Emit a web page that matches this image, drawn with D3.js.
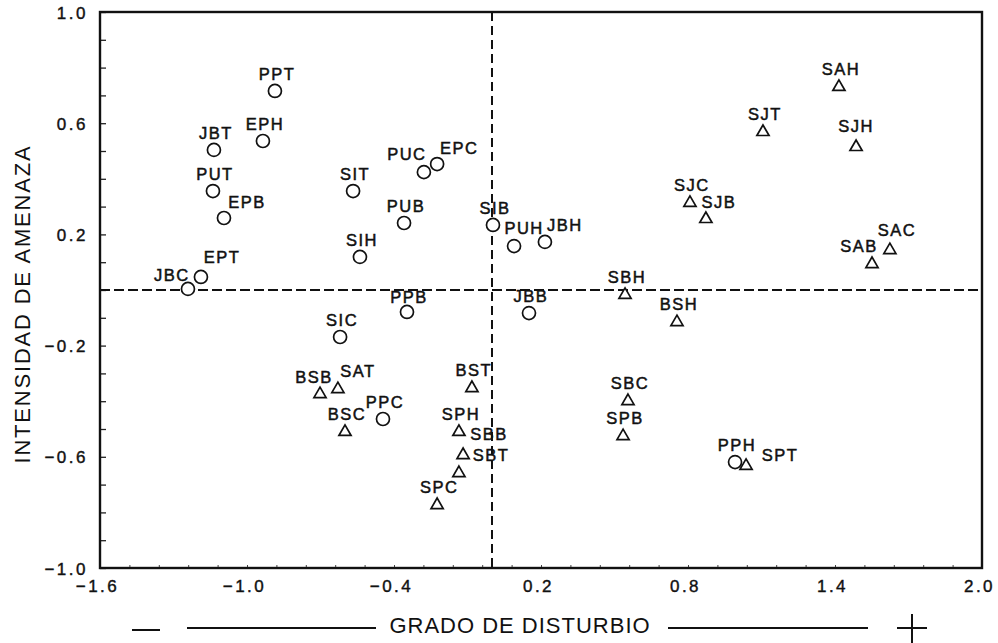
<!DOCTYPE html>
<html>
<head>
<meta charset="utf-8">
<script src="https://cdn.jsdelivr.net/npm/d3@7"></script>
<style>
  body { margin: 0; background: #fff; }
  svg { display: block; }
  text { font-family: "Liberation Sans", Arial, sans-serif; fill: #111; }
</style>
</head>
<body>
<div id="chart"></div>
<script>
// sites shown as circles
var circleNames = ["PPT","JBT","EPH","PUT","EPB","EPT","JBC","SIT","PUC","EPC","PUB","SIH","SIB","PUH","JBH","PPB","JBB","SIC","PPC","PPH"];
var circleX = [-0.886,-1.135,-0.935,-1.139,-1.094,-1.188,-1.241,-0.567,-0.278,-0.224,-0.359,-0.539,0.004,0.090,0.216,-0.347,0.151,-0.620,-0.445,0.992];
var circleY = [0.716,0.504,0.536,0.356,0.259,0.047,0.004,0.356,0.424,0.453,0.241,0.119,0.234,0.158,0.173,-0.079,-0.083,-0.169,-0.464,-0.619];

// sites shown as triangles
var triNames = ["SAH","SJT","SJH","SJC","SJB","SAC","SAB","SBH","BSH","BSB","SAT","BSC","BST","SPH","SBB","SBT","SPC","SBC","SPB","SPT"];
var triX = [1.416,1.106,1.486,0.808,0.873,1.624,1.551,0.543,0.755,-0.702,-0.629,-0.600,-0.082,-0.135,-0.118,-0.135,-0.224,0.555,0.535,1.037];
var triY = [0.734,0.572,0.518,0.317,0.259,0.147,0.097,-0.014,-0.112,-0.371,-0.353,-0.507,-0.349,-0.507,-0.590,-0.655,-0.770,-0.396,-0.522,-0.629];

var xTicks = [-1.6, -1.0, -0.4, 0.2, 0.8, 1.4, 2.0];
var yTicks = [1.0, 0.6, 0.2, -0.2, -0.6, -1.0];

// label placement (offset from the marker), default is just above
var labelOffset = {
  EPB: [23,-16], EPT: [21,-20], JBC: [-16,-14], PUC: [-17,-18], EPC: [22,-16],
  PUH: [10,-18], JBH: [20,-17], SJB: [13,-16], SAC: [7,-19], SAB: [-13,-17],
  BSB: [-6,-16], SAT: [20,-17], SBB: [26,-20], SBT: [32,-17], SPT: [34,-10],
  SJH: [0,-20], PPB: [2,-15]
};

var W = 998, H = 643;
var svg = d3.select("#chart").append("svg").attr("width", W).attr("height", H);

var x = d3.scaleLinear().domain([-1.6, 2.0]).range([100, 982]);
var y = d3.scaleLinear().domain([-1.0, 1.0]).range([568, 12]);

function fmt(v) { return (v < 0 ? "\u2212" : "") + Math.abs(v).toFixed(1); }

// minor ticks
svg.append("g")
  .attr("transform", "translate(" + x(-1.6) + ",0)")
  .call(d3.axisRight(y).tickValues(d3.range(-10, 11).map(function(i) { return i / 10; })).tickSize(6).tickFormat(""))
  .call(function(g) { g.select(".domain").remove(); g.selectAll("line").attr("stroke", "#222").attr("stroke-width", 1.3); });

svg.append("g")
  .attr("transform", "translate(0," + y(-1.0) + ")")
  .call(d3.axisTop(x).tickValues(d3.range(0, 31).map(function(i) { return -1.6 + i * 0.12; })).tickSize(3).tickFormat(""))
  .call(function(g) { g.select(".domain").remove(); g.selectAll("line").attr("stroke", "#444").attr("stroke-width", 1); });

// frame
svg.append("rect")
  .attr("x", x(-1.6)).attr("y", y(1.0))
  .attr("width", x(2.0) - x(-1.6)).attr("height", y(-1.0) - y(1.0))
  .attr("fill", "none").attr("stroke", "#111").attr("stroke-width", 2.4);

// tick labels
svg.append("g")
  .attr("transform", "translate(" + (x(-1.6) - 12) + ",0)")
  .call(d3.axisLeft(y).tickValues(yTicks).tickSize(0).tickFormat(fmt))
  .call(function(g) {
    g.select(".domain").remove();
    g.selectAll("text").attr("x", 0).attr("dy", "0.36em")
      .style("font-size", "17px").style("letter-spacing", "2.5px")
      .style("stroke", "#111").style("stroke-width", 0.4).attr("text-anchor", "end");
  });

svg.append("g")
  .attr("transform", "translate(0," + (y(-1.0) + 12) + ")")
  .call(d3.axisBottom(x).tickValues(xTicks).tickSize(0).tickFormat(fmt))
  .call(function(g) {
    g.select(".domain").remove();
    g.selectAll("text").attr("y", 0).attr("dy", "0.71em").attr("dx", "-3")
      .style("font-size", "17px").style("letter-spacing", "2.5px")
      .style("stroke", "#111").style("stroke-width", 0.4);
  });

// quadrant lines
svg.append("line")
  .attr("x1", x(0)).attr("x2", x(0)).attr("y1", y(1.0)).attr("y2", y(-1.0))
  .attr("stroke", "#111").attr("stroke-width", 2).attr("stroke-dasharray", "9,5");
svg.append("line")
  .attr("x1", x(-1.6)).attr("x2", x(2.0)).attr("y1", y(0)).attr("y2", y(0))
  .attr("stroke", "#111").attr("stroke-width", 2).attr("stroke-dasharray", "10,4");

var circles = circleNames.map(function(n, i) { return {name: n, x: circleX[i], y: circleY[i]}; });
var tris = triNames.map(function(n, i) { return {name: n, x: triX[i], y: triY[i]}; });

svg.append("g").selectAll("circle").data(circles).enter().append("circle")
  .attr("cx", function(d) { return x(d.x); })
  .attr("cy", function(d) { return y(d.y); })
  .attr("r", 6.5)
  .attr("fill", "#fff").attr("stroke", "#111").attr("stroke-width", 1.7);

var tri = d3.symbol().type(d3.symbolTriangle).size(64);
svg.append("g").selectAll("path").data(tris).enter().append("path")
  .attr("d", tri)
  .attr("transform", function(d) { return "translate(" + x(d.x) + "," + (y(d.y) + 1) + ")"; })
  .attr("fill", "#fff").attr("stroke", "#111").attr("stroke-width", 1.7);

svg.append("g").selectAll("text").data(circles.concat(tris)).enter().append("text")
  .attr("x", function(d) { return x(d.x) + (labelOffset[d.name] ? labelOffset[d.name][0] : 2); })
  .attr("y", function(d) { return y(d.y) + (labelOffset[d.name] ? labelOffset[d.name][1] : -17); })
  .attr("dy", "0.36em")
  .attr("text-anchor", "middle")
  .style("font-size", "16.5px")
  .style("letter-spacing", "1.5px")
  .style("stroke", "#111").style("stroke-width", 0.5)
  .text(function(d) { return d.name; });

// axis titles
svg.append("text")
  .attr("transform", "translate(30," + ((y(1) + y(-1)) / 2 + 14) + ") rotate(-90)")
  .attr("text-anchor", "middle")
  .style("font-size", "22px").style("letter-spacing", "1.8px")
  .text("INTENSIDAD DE AMENAZA");

svg.append("text")
  .attr("x", 520).attr("y", 625).attr("dy", "0.36em")
  .attr("text-anchor", "middle")
  .style("font-size", "22px").style("letter-spacing", "1px")
  .text("GRADO DE DISTURBIO");

// direction marks under the x axis: minus, lines and plus
var dir = svg.append("g").attr("stroke", "#111").attr("stroke-width", 2);
dir.append("line").attr("x1", 132).attr("x2", 160).attr("y1", 630).attr("y2", 630);
dir.append("line").attr("x1", 187).attr("x2", 376).attr("y1", 628).attr("y2", 628);
dir.append("line").attr("x1", 668).attr("x2", 868).attr("y1", 628).attr("y2", 628);
dir.append("line").attr("x1", 897).attr("x2", 927).attr("y1", 628).attr("y2", 628);
dir.append("line").attr("x1", 912).attr("x2", 912).attr("y1", 614).attr("y2", 643);
</script>
</body>
</html>
